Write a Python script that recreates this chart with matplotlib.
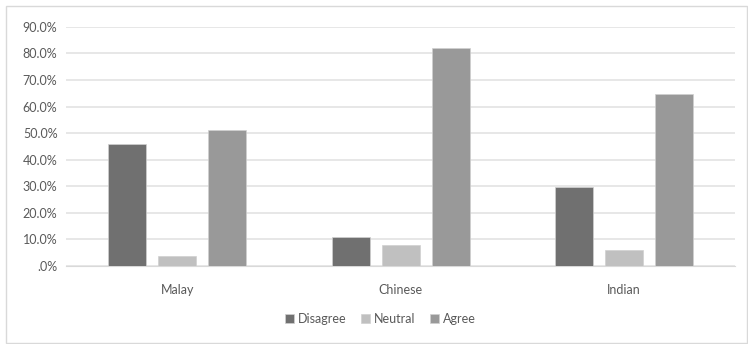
import matplotlib
matplotlib.use("Agg")
from matplotlib import pyplot as plt
from matplotlib.patches import Rectangle
import numpy as np

categories = ["Malay", "Chinese", "Indian"]
series = ["Disagree", "Neutral", "Agree"]
disagree = [46.0, 10.7, 29.8]
neutral = [3.6, 8.0, 6.0]
agree = [51.0, 82.0, 64.8]
colors = ["#707070", "#c0c0c0", "#999999"]
yticks = [0, 10, 20, 30, 40, 50, 60, 70, 80, 90]

plt.rcParams["font.family"] = ["Lato", "DejaVu Sans"]
txt = "#595959"

fig = plt.figure(figsize=(7.48, 3.44), dpi=100)
fig.patches.append(Rectangle((0.008, 0.003), 0.99, 0.98, transform=fig.transFigure,
                             fill=False, edgecolor="#d9d9d9", linewidth=1.0))
ax = fig.add_axes([0.088, 0.227, 0.895, 0.695])

x = np.arange(len(categories))
w = 0.17
step = 0.224
for i, (name, vals) in enumerate(zip(series, [disagree, neutral, agree])):
    ax.bar(x + (i - 1) * step, vals, width=w, color=colors[i], label=name,
           edgecolor="#d0d0d0", linewidth=0.5, zorder=3)

ax.set_xlim(-0.5, 2.5)
ax.set_ylim(0, 90)
ax.set_yticks(yticks)
ax.set_yticklabels([".0%" if t == 0 else f"{t:.1f}%" for t in yticks])
ax.set_xticks(x)
ax.set_xticklabels(categories)
ax.grid(axis="y", color="#e3e3e3", linewidth=1.2, zorder=0)
for s in ["top", "right", "left"]:
    ax.spines[s].set_visible(False)
ax.spines["bottom"].set_color("#d9d9d9")
ax.tick_params(axis="both", length=0, colors=txt, labelsize=9)
ax.tick_params(axis="y", pad=6)
ax.tick_params(axis="x", pad=13)

ax.legend(loc="center", bbox_to_anchor=(0.47, -0.222), ncol=3, frameon=False,
          fontsize=9, labelcolor=txt, handlelength=0.7, handleheight=0.7,
          handletextpad=0.3, columnspacing=1.2)

fig.savefig("out.png", dpi=100)
